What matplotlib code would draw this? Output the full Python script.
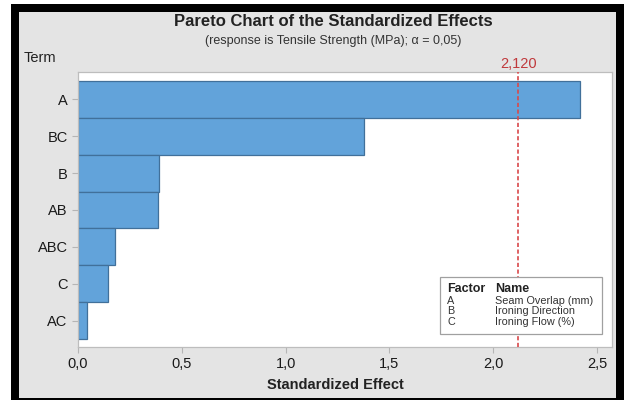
import matplotlib.pyplot as plt
from matplotlib.patches import Rectangle

plt.rcParams['font.family'] = ['Liberation Sans', 'DejaVu Sans']

# effects, largest first (top of chart)
terms = ["A", "BC", "B", "AB", "ABC", "C", "AC"]
effects = [2.42, 1.378, 0.39, 0.385, 0.18, 0.143, 0.043]
critical = 2.120
xticks = [0.0, 0.5, 1.0, 1.5, 2.0, 2.5]
xtick_labels = ["0,0", "0,5", "1,0", "1,5", "2,0", "2,5"]

factor_codes = ["A", "B", "C"]
factor_names = ["Seam Overlap (mm)", "Ironing Direction", "Ironing Flow (%)"]

W, H = 624, 400
fig = plt.figure(figsize=(W / 100, H / 100), dpi=100)
fig.patch.set_facecolor("white")

# black frame around the grey panel (screenshot look)
fig.patches.append(Rectangle((11 / W, 0), 613 / W, 396 / H, transform=fig.transFigure,
                             facecolor="black", edgecolor="none", zorder=-2))
fig.patches.append(Rectangle((19 / W, 2 / H), 597 / W, 386 / H, transform=fig.transFigure,
                             facecolor="#e4e4e4", edgecolor="none", zorder=-1))

ax = fig.add_axes([78 / W, 53 / H, 534 / W, 275 / H])
ax.set_facecolor("white")

ypos = list(range(len(terms)))
ax.barh(ypos, effects, height=1.0, color="#62a3da", edgecolor="#41709a", linewidth=0.9, zorder=2)
ax.axvline(critical, color="#d9484a", linestyle=(0, (2.5, 1.5)), linewidth=1.2, zorder=3)

ax.set_xlim(0, 2.572)
ax.set_ylim(6.717, -0.744)
ax.set_yticks(ypos)
ax.set_yticklabels(terms, fontsize=10.5, color="#1a1a1a")
ax.set_xticks(xticks)
ax.set_xticklabels(xtick_labels, fontsize=10.5, color="#1a1a1a")
ax.tick_params(axis="both", length=4, color="#b5b5b5", width=0.8, pad=3.5)
for s in ax.spines.values():
    s.set_color("#bdbdbd")
    s.set_linewidth(0.9)

# critical value label
ax.text(critical, -0.78, "2,120", color="#c0393c", fontsize=10.5, ha="center", va="bottom")

# factor legend box
lx0, ly0, lx1, ly1 = 440, 277, 602, 334
fig.patches.append(Rectangle((lx0 / W, 1 - ly1 / H), (lx1 - lx0) / W, (ly1 - ly0) / H,
                             transform=fig.transFigure, facecolor="white", edgecolor="#a0a0a0",
                             linewidth=0.9, zorder=5))
fig.text(447 / W, 1 - 289 / H, "Factor", fontsize=9, fontweight="bold", color="#222222",
         va="center", zorder=6)
fig.text(495 / W, 1 - 289 / H, "Name", fontsize=9, fontweight="bold", color="#222222",
         va="center", zorder=6)
for i, (c, n) in enumerate(zip(factor_codes, factor_names)):
    y = 301 + i * 10.5
    fig.text(447 / W, 1 - y / H, c, fontsize=7.8, color="#333333", va="center", zorder=6)
    fig.text(495 / W, 1 - y / H, n, fontsize=7.8, color="#333333", va="center", zorder=6)

fig.text(333 / W, 1 - 21 / H, "Pareto Chart of the Standardized Effects", fontsize=12,
         fontweight="bold", color="#222222", ha="center", va="center")
fig.text(333 / W, 1 - 41 / H, "(response is Tensile Strength (MPa); \u03b1 = 0,05)", fontsize=9,
         color="#333333", ha="center", va="center")
fig.text(40 / W, 1 - 58 / H, "Term", fontsize=10.5, color="#222222", ha="center", va="center")
fig.text(335 / W, 1 - 385 / H, "Standardized Effect", fontsize=10.5, fontweight="bold",
         color="#222222", ha="center", va="center")

fig.savefig("out.png", dpi=100, facecolor=fig.get_facecolor())
